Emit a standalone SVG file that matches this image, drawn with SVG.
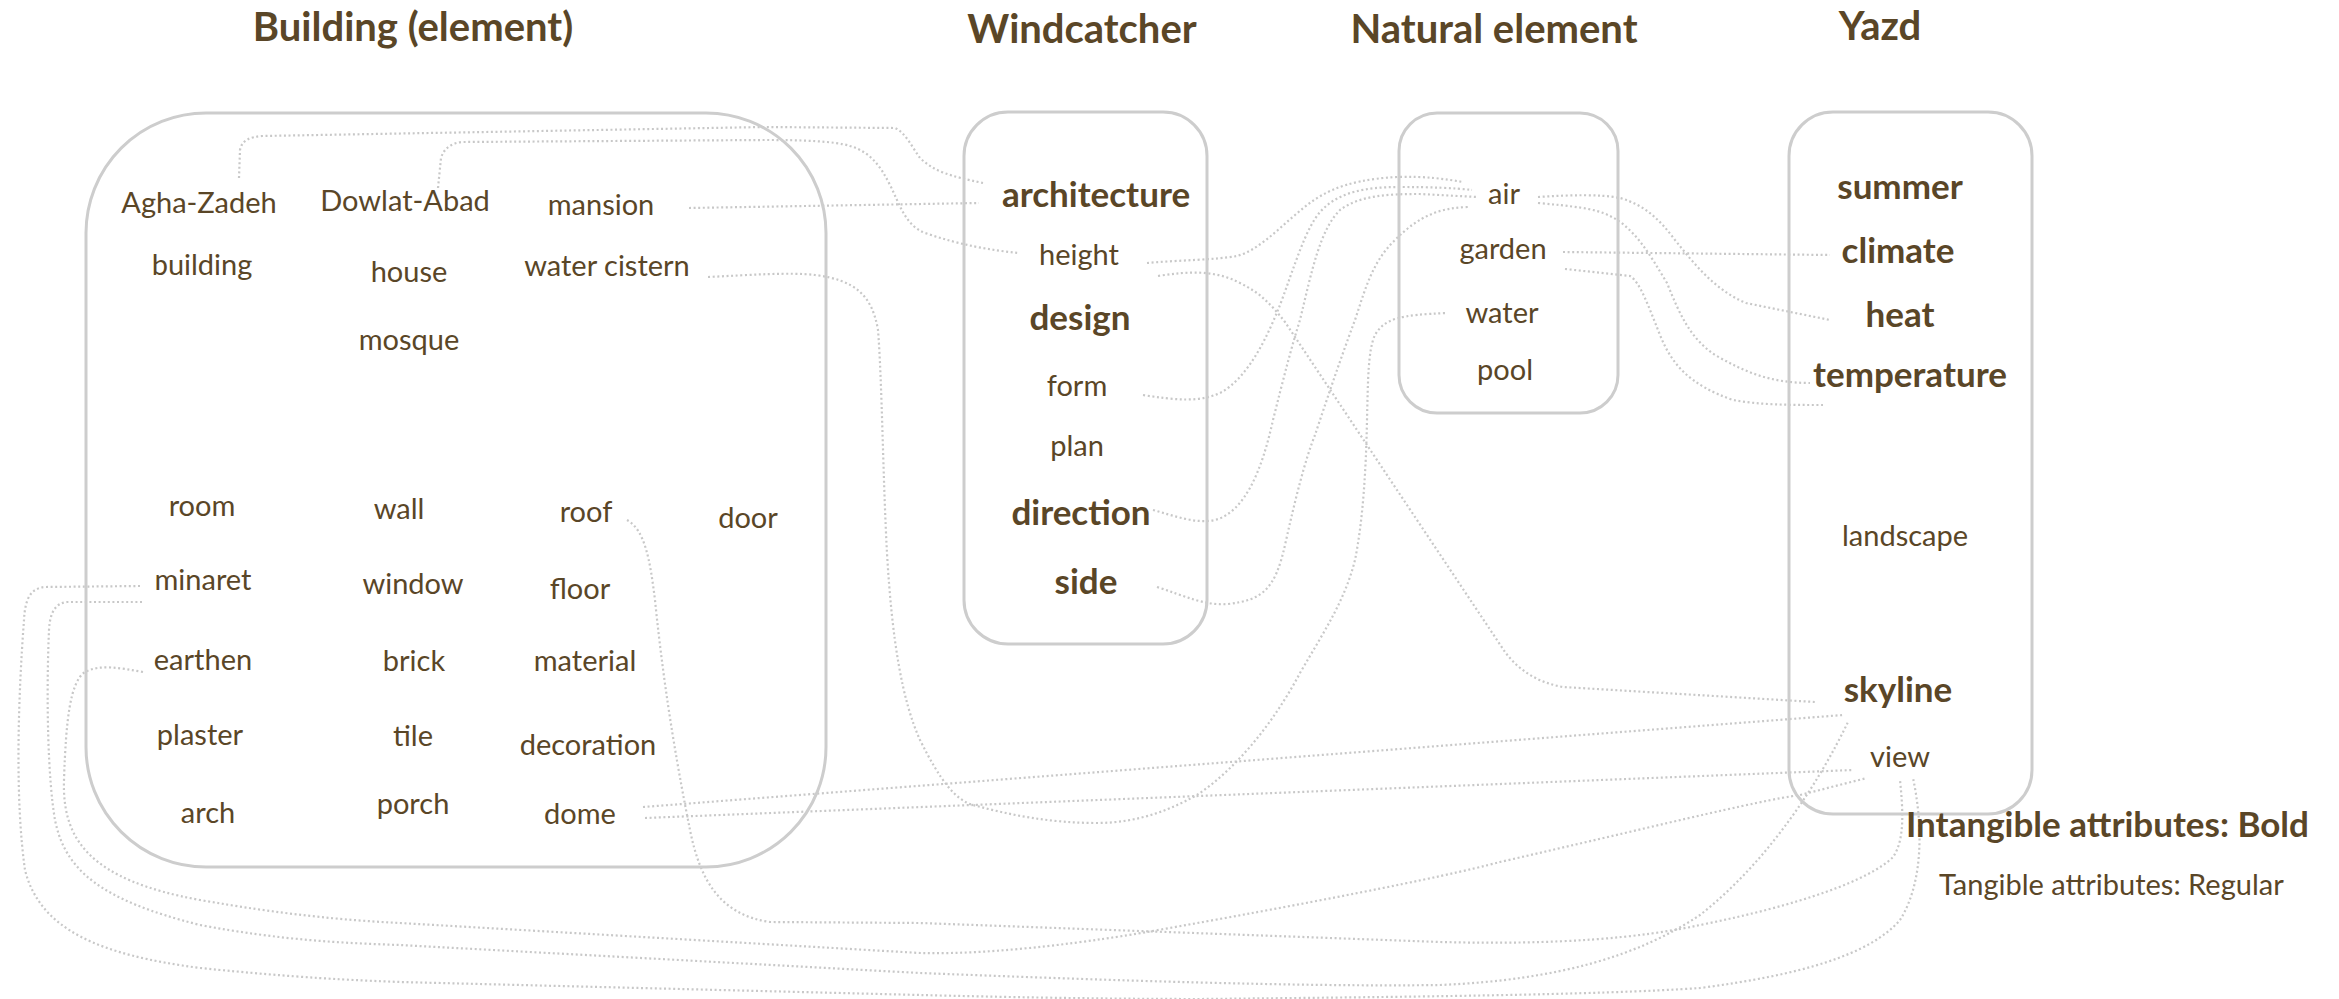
<svg xmlns="http://www.w3.org/2000/svg" width="2339" height="999" viewBox="0 0 2339 999">
<style>
.t{font-family:Lato,"Open Sans","Liberation Sans",sans-serif;fill:#5a4627;text-anchor:middle}
.r{font-size:29px;font-weight:400}
.b{font-size:35px;font-weight:700}
.h{font-size:40px;font-weight:700}
.s{text-anchor:start}
.box{fill:none;stroke:#cdcdcd;stroke-width:3}
.c{fill:none;stroke:#c8c8c8;stroke-width:2.2;stroke-dasharray:2 2.6}
</style>
<rect width="2339" height="999" fill="#ffffff"/>
<g id="titles">
<text class="t h" x="413" y="41">Building (element)</text>
<text class="t h" x="1082" y="43">Windcatcher</text>
<text class="t h" x="1494" y="43">Natural element</text>
<text class="t h" x="1880" y="40">Yazd</text>
</g>
<g id="connectors">
<path class="c" d="M239,178 L240,150 C242,140 250,137 262,136 L765,127 L895,128 C905,132 912,147 920,158 C935,172 950,176 983,183"/>
<path class="c" d="M438,188 L441,158 C444,148 452,143 462,142 L765,140 C800,140 835,141 850,146 C870,152 880,165 890,185 C900,205 905,225 925,233 C960,245 990,250 1018,253"/>
<path class="c" d="M689,208 L979,203"/>
<path class="c" d="M708,277 C750,275 790,272 815,275 C855,280 872,295 878,330 C882,380 883,480 887,553 C892,640 902,700 920,740 C940,780 955,800 973,805 C1010,815 1050,823 1097,823 C1140,823 1175,808 1200,793 C1240,765 1275,720 1300,673 C1325,630 1345,600 1355,560 C1363,520 1366,470 1367,420 C1368,380 1368,350 1375,335 C1385,318 1400,315 1447,313"/>
<path class="c" d="M1147,263 C1180,260 1215,260 1237,256 C1258,250 1275,232 1295,215 C1318,195 1340,180 1397,177 C1425,176 1445,179 1463,182"/>
<path class="c" d="M1158,276 C1190,271 1215,270 1240,283 C1260,293 1270,303 1285,322 L1505,652 C1520,672 1540,683 1563,687 L1815,702"/>
<path class="c" d="M1143,395 C1175,400 1200,403 1222,392 C1250,375 1268,335 1280,305 C1295,265 1305,230 1320,212 C1338,192 1365,187 1400,187 C1430,187 1455,188 1472,190"/>
<path class="c" d="M1153,510 C1175,516 1195,524 1215,520 C1245,512 1262,470 1273,420 C1283,380 1292,345 1300,320 C1312,270 1320,230 1340,210 C1360,195 1390,194 1420,194 L1477,197"/>
<path class="c" d="M1157,587 C1185,596 1205,606 1228,604 C1262,600 1275,590 1285,545 C1295,500 1305,460 1315,435 C1325,405 1340,360 1355,320 C1365,290 1372,262 1395,240 C1420,215 1440,208 1468,207"/>
<path class="c" d="M1538,197 C1570,195 1600,194 1620,198 C1645,205 1660,220 1675,240 C1695,265 1715,290 1746,303 L1830,320"/>
<path class="c" d="M1538,203 C1570,206 1595,208 1610,216 C1635,228 1650,255 1667,283 C1680,315 1690,338 1715,355 C1745,372 1770,383 1810,383"/>
<path class="c" d="M1563,252 L1830,255"/>
<path class="c" d="M1565,269 L1630,276 C1640,282 1648,305 1660,335 C1672,365 1690,385 1733,400 C1760,405 1790,405 1823,405"/>
<path class="c" d="M643,807 L1843,715"/>
<path class="c" d="M645,818 L1853,770"/>
<path class="c" d="M627,520 C645,530 650,560 655,600 C665,700 680,780 690,830 C700,880 720,915 770,922 L920,923 L1440,942 C1560,945 1640,938 1700,925 C1800,905 1870,880 1893,857 C1905,840 1903,810 1900,780"/>
<path class="c" d="M140,586 L45,587 C30,588 25,600 24,620 C18,700 15,800 25,870 C40,930 100,955 200,968 C300,978 350,980 400,982 L920,995 C1000,997 1100,999 1200,999 C1400,997 1600,995 1700,988 C1800,975 1870,955 1900,920 C1925,880 1922,820 1913,778"/>
<path class="c" d="M142,602 L67,602 C57,603 50,610 49,630 C46,700 48,780 55,820 C65,870 100,900 200,925 C280,940 340,943 400,945 L920,973 C1100,980 1300,987 1440,985 C1560,980 1640,955 1700,915 C1770,860 1820,780 1848,722"/>
<path class="c" d="M143,672 C120,668 100,664 85,672 C70,682 66,720 64,780 C62,840 90,880 200,900 C280,914 340,920 400,923 L920,953 C1000,955 1100,940 1147,932 C1300,905 1440,878 1500,862 C1640,830 1760,800 1800,795 L1867,778"/>
</g>
<g id="building">
<rect class="box" x="86" y="113" width="740" height="754" rx="120" ry="120"/>
<text class="t r" x="199" y="213">Agha-Zadeh</text>
<text class="t r" x="405" y="211">Dowlat-Abad</text>
<text class="t r" x="601" y="215">mansion</text>
<text class="t r" x="202" y="275">building</text>
<text class="t r" x="409" y="282">house</text>
<text class="t r" x="607" y="276">water cistern</text>
<text class="t r" x="409" y="350">mosque</text>
<text class="t r" x="202" y="516">room</text>
<text class="t r" x="399" y="519">wall</text>
<text class="t r" x="586" y="522">roof</text>
<text class="t r" x="748" y="528">door</text>
<text class="t r" x="203" y="590">minaret</text>
<text class="t r" x="413" y="594">window</text>
<text class="t r" x="580" y="599">floor</text>
<text class="t r" x="203" y="670">earthen</text>
<text class="t r" x="414" y="671">brick</text>
<text class="t r" x="585" y="671">material</text>
<text class="t r" x="200" y="745">plaster</text>
<text class="t r" x="413" y="746">tile</text>
<text class="t r" x="588" y="755">decoration</text>
<text class="t r" x="208" y="823">arch</text>
<text class="t r" x="413" y="814">porch</text>
<text class="t r" x="580" y="824">dome</text>
</g>
<g id="windcatcher">
<rect class="box" x="964" y="112" width="243" height="532" rx="44" ry="44"/>
<text class="t b" x="1096" y="207">architecture</text>
<text class="t r" x="1079" y="265">height</text>
<text class="t b" x="1080" y="330">design</text>
<text class="t r" x="1077" y="396">form</text>
<text class="t r" x="1077" y="456">plan</text>
<text class="t b" x="1081" y="525">direction</text>
<text class="t b" x="1086" y="594">side</text>
</g>
<g id="natural">
<rect class="box" x="1399" y="113" width="219" height="300" rx="38" ry="38"/>
<text class="t r" x="1504" y="204">air</text>
<text class="t r" x="1503" y="259">garden</text>
<text class="t r" x="1502" y="323">water</text>
<text class="t r" x="1505" y="380">pool</text>
</g>
<g id="yazd">
<rect class="box" x="1789" y="112" width="243" height="702" rx="44" ry="44"/>
<text class="t b" x="1900" y="199">summer</text>
<text class="t b" x="1898" y="263">climate</text>
<text class="t b" x="1900" y="327">heat</text>
<text class="t b" x="1910" y="387">temperature</text>
<text class="t r" x="1905" y="546">landscape</text>
<text class="t b" x="1898" y="702">skyline</text>
<text class="t r" x="1900" y="767">view</text>
</g>
<g id="legend">
<text class="t b s" x="1906" y="837">Intangible attributes: Bold</text>
<text class="t r s" x="1939" y="895">Tangible attributes: Regular</text>
</g>
</svg>
